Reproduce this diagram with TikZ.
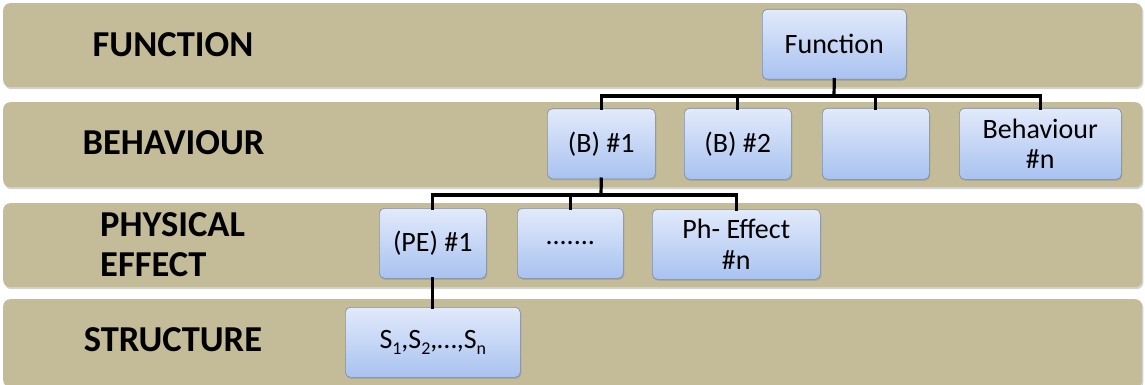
\documentclass[tikz,border=0pt]{standalone}
\usepackage{fontspec}
\setmainfont{Carlito}
\usetikzlibrary{shadows}
\definecolor{bandtan}{HTML}{C4BC98}
\definecolor{boxtop}{HTML}{E2EAFB}
\definecolor{boxbot}{HTML}{A8C2F0}
\definecolor{boxline}{HTML}{7F8A9E}
\newcommand{\lowsub}[1]{\raisebox{-6pt}{\fontsize{18}{18}\selectfont #1}}
\tikzset{
  band/.style={draw=none, fill=bandtan, rounded corners=7pt, anchor=north west,
    inner sep=0pt, drop shadow={shadow xshift=1.2pt, shadow yshift=-2pt, opacity=0.35}},
  lvl/.style={font=\fontsize{36.5}{40}\selectfont\bfseries, inner sep=0pt},
  ebox/.style={draw=boxline, line width=0.6pt, rounded corners=5pt, top color=boxtop, bottom color=boxbot,
    anchor=north west, inner sep=0pt, align=center, font=\fontsize{28}{30.5}\selectfont,
    drop shadow={shadow xshift=1pt, shadow yshift=-1.5pt, opacity=0.35}},
  conn/.style={line width=3.2pt, line cap=rect}
}
\begin{document}
\begin{tikzpicture}[x=1pt,y=-1pt]
\useasboundingbox (0,0) rectangle (1145,385);
% bands
\node[band, minimum width=1139pt, minimum height=84pt] (r1) at (3,3) {};
\node[band, minimum width=1139pt, minimum height=85pt] (r2) at (3,102) {};
\node[band, minimum width=1139pt, minimum height=84pt] (r3) at (3,203) {};
\node[band, minimum width=1139pt, minimum height=88pt] (r4) at (3,299) {};
% level labels
\node[lvl] (l1) at (173,45) {FUNCTION};
\node[lvl] (l2) at (173.5,143) {BEHAVIOUR};
\node[lvl, align=left, anchor=west] (l3) at (100,245) {PHYSICAL\\EFFECT};
\node[lvl] (l4) at (173,340) {STRUCTURE};
% boxes
\node[ebox, minimum width=144pt, minimum height=70pt] (F) at (762,9) {Function};
\node[ebox, minimum width=108pt, minimum height=70pt] (B1) at (547,108.5) {(B) \#1};
\node[ebox, minimum width=107pt, minimum height=71pt] (B2) at (684,108) {(B) \#2};
\node[ebox, minimum width=107pt, minimum height=71pt] (B3) at (822,108) {};
\node[ebox, minimum width=162pt, minimum height=71pt] (Bn) at (959,108) {Behaviour\\\#n};
\node[ebox, minimum width=107pt, minimum height=70pt] (P1) at (379,208) {(PE) \#1};
\node[ebox, minimum width=106pt, minimum height=70pt] (P2) at (517,208) {.......};
\node[ebox, minimum width=168pt, minimum height=70pt] (Pn) at (652,209) {Ph- Effect\\\#n};
\node[ebox, minimum width=175pt, minimum height=70pt] (S) at (345,307) {S\lowsub{1},S\lowsub{2},\ldots,S\lowsub{n}};
% connectors
\coordinate (j1) at (834,96);
\coordinate (j2) at (601,195);
\draw[conn] (F.south) -- (j1);
\draw[conn] (B1.north) -- (B1.north |- j1) -- (Bn.north |- j1) -- (Bn.north);
\draw[conn] (B2.north) -- (B2.north |- j1);
\draw[conn] (B3.north) -- (B3.north |- j1);
\draw[conn] (B1.south) -- (j2);
\draw[conn] (P1.north) -- (P1.north |- j2) -- (Pn.north |- j2) -- (Pn.north);
\draw[conn] (P2.north) -- (P2.north |- j2);
\draw[conn] (P1.south) -- (S.north -| P1.south);
\end{tikzpicture}
\end{document}
